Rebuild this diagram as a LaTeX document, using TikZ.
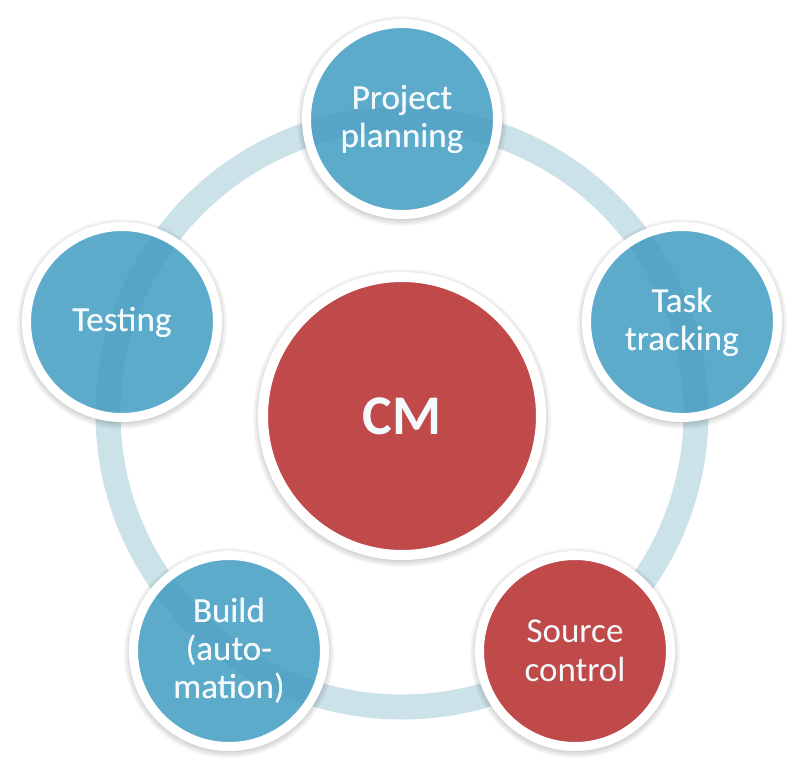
\documentclass[tikz,border=0pt]{standalone}
\usepackage{fontspec}
\newfontfamily\carlito{Carlito}
\definecolor{ringcol}{HTML}{CBE2E9}
\definecolor{bluefill}{HTML}{5DABCB}
\definecolor{bandcol}{HTML}{3F93B8}
\definecolor{redfill}{HTML}{C0494A}
\definecolor{txtcol}{HTML}{F4FAFC}
\tikzset{
  disc/.style={circle, draw=white, inner sep=0pt, align=center, text=txtcol},
  bluedisc/.style={disc, fill=bluefill, minimum size=191pt, line width=9pt,
    font=\carlito\fontsize{35}{38}\selectfont},
  reddisc/.style={disc, fill=redfill, minimum size=191pt, line width=9pt,
    font=\carlito\fontsize{35}{39}\selectfont},
  ring/.style={line width=25pt, draw=ringcol},
  band/.style={line width=25pt, draw=bandcol, opacity=0.22},
  shade/.style={fill=black, opacity=0.035},
  label/.style={font=\carlito\fontsize{35}{38}\selectfont, text=txtcol, align=center}
}
\begin{document}
\begin{tikzpicture}[x=1pt,y=-1pt]
\useasboundingbox[fill=white] (0,0) rectangle (800,781);
\coordinate (c) at (402,413);
\coordinate (ppc) at (402,119);
\coordinate (ttc) at (682,322);
\coordinate (scc) at (575,651);
\coordinate (bdc) at (229,651);
\coordinate (tsc) at (122,322);
\coordinate (cmc) at (402,416);
\draw[ring] (c) circle[radius=294pt];
\foreach \p/\r in {ppc/99,ttc/99,scc/99,bdc/99,tsc/99,cmc/143}{
  \foreach \d in {0,1.5,3,4.5,6}{
    \fill[shade] ([yshift=-2pt]\p) circle[radius=\r pt+\d pt];
  }
}
\node[bluedisc] (pp) at (ppc) {Project\\planning};
\node[bluedisc] (tt) at (ttc) {Task\\tracking};
\node[reddisc]  (sc) at (scc) {Source\\control};
\node[bluedisc] (bd) at (bdc) {Build\\(auto-\\mation)};
\node[bluedisc] (ts) at (tsc) {Testing};
\node[disc, fill=redfill, minimum size=278pt, line width=10pt,
  font=\carlito\bfseries\fontsize{56}{60}\selectfont] (cm) at (cmc) {CM};
\begin{scope}
  \clip (pp.center) circle[radius=91pt] (tt.center) circle[radius=91pt]
        (bd.center) circle[radius=91pt] (ts.center) circle[radius=91pt];
  \draw[band] (c) circle[radius=294pt];
\end{scope}
\node[label] at (pp.center) {Project\\planning};
\node[label] at (tt.center) {Task\\tracking};
\node[label] at (bd.center) {Build\\(auto-\\mation)};
\node[label] at (ts.center) {Testing};
\end{tikzpicture}
\end{document}
